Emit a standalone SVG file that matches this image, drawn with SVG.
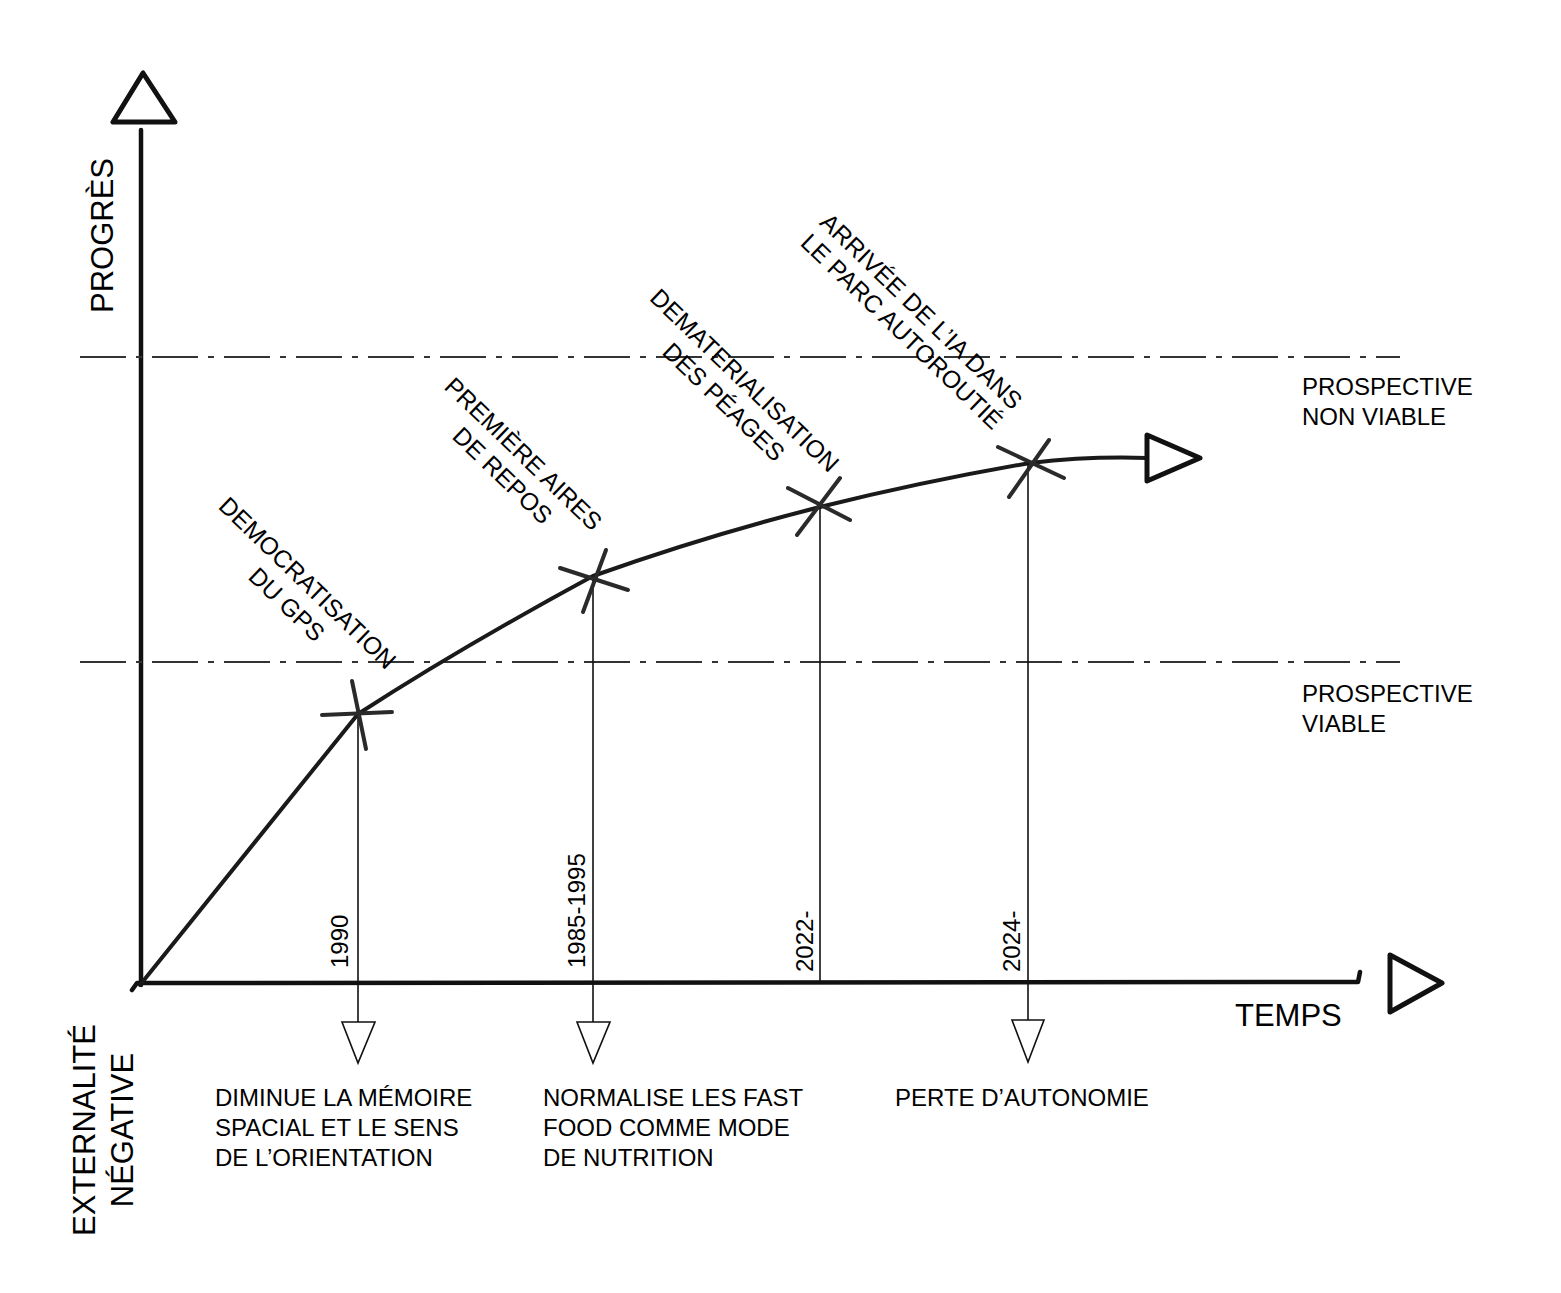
<svg xmlns="http://www.w3.org/2000/svg" width="1561" height="1293" viewBox="0 0 1561 1293">
<style>
.t{font-family:"Liberation Sans",Arial,sans-serif;fill:#000}
.ax{stroke:#111;stroke-width:4.5;fill:none;stroke-linecap:round;stroke-linejoin:round}
.head{stroke:#111;stroke-width:5;fill:#fff;stroke-linejoin:round}
.thin{stroke:#111;stroke-width:1.6;fill:none}
.down{stroke:#111;stroke-width:1.6;fill:#fff;stroke-linejoin:miter}
.dd{stroke:#333;stroke-width:1.8;fill:none;stroke-dasharray:46 10 6 10}
.cross{stroke:#2a2a2a;stroke-width:4;stroke-linecap:round}
.curve{stroke:#1a1a1a;stroke-width:4;fill:none;stroke-linecap:round;stroke-linejoin:round}
.lab{font-size:24.5px}
.yr{font-size:24px}
.bt{font-size:24px}
</style>
<rect width="1561" height="1293" fill="#fff"/>

<g id="axes">
  <line class="ax" x1="141" y1="130" x2="141" y2="985"/>
  <polygon class="head" points="143,73 113,122 175,122"/>
  <polyline class="ax" points="132,990 137,983 1358,982 1360,972"/>
  <polygon class="head" points="1390,955 1390,1012 1442,983"/>
  <text class="t" font-size="31" transform="translate(113,313) rotate(-90)">PROGRÈS</text>
  <text class="t" font-size="31" x="1235" y="1026">TEMPS</text>
  <text class="t" font-size="31" text-anchor="middle" transform="translate(95,1130) rotate(-90)"><tspan x="0" y="0">EXTERNALITÉ</tspan><tspan x="0" y="38">NÉGATIVE</tspan></text>
</g>

<g id="zones">
  <line class="dd" x1="80" y1="357" x2="1400" y2="357"/>
  <line class="dd" x1="80" y1="662" x2="1400" y2="662"/>
  <text class="t" font-size="24" x="1302" y="395">PROSPECTIVE</text>
  <text class="t" font-size="24" x="1302" y="425">NON VIABLE</text>
  <text class="t" font-size="24" x="1302" y="702">PROSPECTIVE</text>
  <text class="t" font-size="24" x="1302" y="732">VIABLE</text>
</g>

<g id="connectors">
  <path class="curve" d="M140,985 L358,714 Q460,648 593,576 Q705,536 820,507 Q925,481 1030,463 Q1090,456 1147,458"/>
  <polygon class="head" points="1147,435 1147,481 1200,458"/>
  <line class="thin" x1="358" y1="714" x2="358" y2="1022"/>
  <polygon class="down" points="342,1022 375,1022 358,1063"/>
  <line class="thin" x1="593" y1="576" x2="593" y2="1022"/>
  <polygon class="down" points="577,1022 610,1022 593,1063"/>
  <line class="thin" x1="820" y1="507" x2="820" y2="982"/>
  <line class="thin" x1="1028" y1="463" x2="1028" y2="1020"/>
  <polygon class="down" points="1012,1020 1044,1020 1028,1062"/>
</g>

<g id="gps">
  <line class="cross" x1="322" y1="715" x2="392" y2="712"/>
  <line class="cross" x1="352" y1="681" x2="366" y2="749"/>
  <text class="t lab" text-anchor="middle" transform="translate(301.7,589) rotate(44)"><tspan x="0" y="0">DEMOCRATISATION</tspan><tspan x="0" y="30">DU GPS</tspan></text>
  <text class="t yr" transform="translate(348,968) rotate(-90)">1990</text>
  <text class="t bt" x="215" y="1106">DIMINUE LA MÉMOIRE</text>
  <text class="t bt" x="215" y="1136">SPACIAL ET LE SENS</text>
  <text class="t bt" x="215" y="1166">DE L’ORIENTATION</text>
</g>

<g id="aires">
  <line class="cross" x1="560" y1="568" x2="628" y2="590"/>
  <line class="cross" x1="606" y1="550" x2="583" y2="612"/>
  <text class="t lab" text-anchor="middle" transform="translate(517.5,460) rotate(44)"><tspan x="0" y="0">PREMIÈRE AIRES</tspan><tspan x="0" y="30">DE REPOS</tspan></text>
  <text class="t yr" transform="translate(585,968) rotate(-90)">1985-1995</text>
  <text class="t bt" x="543" y="1106">NORMALISE LES FAST</text>
  <text class="t bt" x="543" y="1136">FOOD COMME MODE</text>
  <text class="t bt" x="543" y="1166">DE NUTRITION</text>
</g>

<g id="peages">
  <line class="cross" x1="788" y1="488" x2="850" y2="520"/>
  <line class="cross" x1="840" y1="478" x2="797" y2="535"/>
  <text class="t lab" text-anchor="middle" transform="translate(738.7,386.5) rotate(44)"><tspan x="0" y="0">DEMATERIALISATION</tspan><tspan x="0" y="30">DES PÉAGES</tspan></text>
  <text class="t yr" transform="translate(813,972) rotate(-90)">2022-</text>
</g>

<g id="ia">
  <line class="cross" x1="998" y1="447" x2="1064" y2="478"/>
  <line class="cross" x1="1049" y1="440" x2="1009" y2="497"/>
  <text class="t lab" text-anchor="middle" transform="translate(915.4,317.3) rotate(44)"><tspan x="0" y="0">ARRIVÉE DE L’IA DANS</tspan><tspan x="0" y="28">LE PARC AUTOROUTIÉ</tspan></text>
  <text class="t yr" transform="translate(1020,972) rotate(-90)">2024-</text>
  <text class="t bt" x="895" y="1106">PERTE D’AUTONOMIE</text>
</g>
</svg>
